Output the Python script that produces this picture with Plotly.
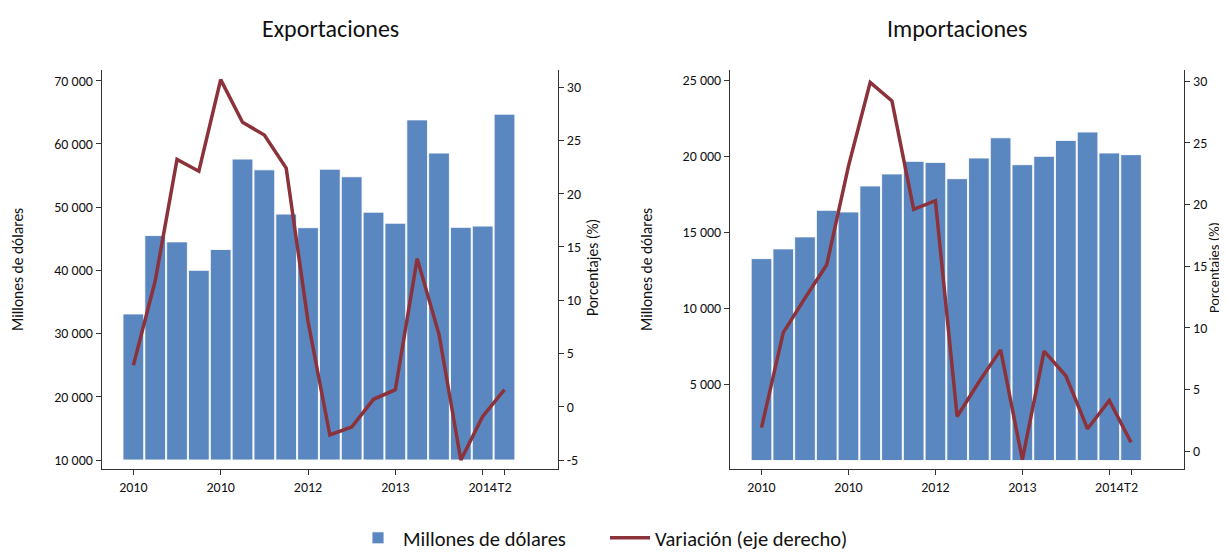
import plotly.graph_objects as go

# ---- data ----
periodos = ["2010T1", "2010T2", "2010T3", "2010T4",
            "2011T1", "2011T2", "2011T3", "2011T4",
            "2012T1", "2012T2", "2012T3", "2012T4",
            "2013T1", "2013T2", "2013T3", "2013T4",
            "2014T1", "2014T2"]

export_millones = [33100, 45500, 44500, 40000, 43300, 57600, 55900, 48900, 46750,
                   56000, 54800, 49200, 47450, 63800, 58550, 46800, 47000, 64700]
export_variacion = [3.9, 11.8, 23.2, 22.1, 30.7, 26.7, 25.5, 22.4, 8.0,
                    -2.65, -1.9, 0.7, 1.6, 13.9, 6.8, -5.0, -0.9, 1.6]

import_millones = [13280, 13920, 14710, 16460, 16350, 18060, 18850, 19680, 19610,
                   18540, 19900, 21230, 19460, 20010, 21060, 21610, 20230, 20120]
import_variacion = [1.9, 9.6, 12.4, 15.1, 23.1, 29.9, 28.4, 19.6, 20.3,
                    2.8, 5.6, 8.2, -0.7, 8.1, 6.1, 1.8, 4.1, 0.7]

tick_idx = [0, 4, 8, 12, 16, 17]
tick_text = ["2010", "2010", "2012", "2013", "2014", "T2"]

export_base = 10000
import_base = 0

# ---- style ----
BAR = "#5B87C1"
LINE = "#8C323A"
FONT = "Carlito, Lato, 'Liberation Sans', sans-serif"
AX = "#333333"

# page has an 8px body margin: figure pixels = page pixels - 8
OFF = 8
W, H = 1227 - OFF, 553 - OFF


def px(xp):
    return (xp - OFF) / W


def py(yp):
    return 1 - (yp - OFF) / H


fig = go.Figure()

fig.add_trace(go.Bar(x=periodos, y=[v - export_base for v in export_millones], base=export_base,
                     marker=dict(color=BAR, line=dict(color="rgba(255,255,255,0.85)", width=1)),
                     name="Millones de dólares", xaxis="x", yaxis="y", legendgroup="b"))
fig.add_trace(go.Scatter(x=periodos, y=export_variacion, mode="lines",
                         line=dict(color=LINE, width=3.5),
                         name="Variación (eje derecho)", xaxis="x", yaxis="y2", legendgroup="l"))
fig.add_trace(go.Bar(x=periodos, y=[v - import_base for v in import_millones], base=import_base,
                     marker=dict(color=BAR, line=dict(color="rgba(255,255,255,0.85)", width=1)),
                     name="Millones de dólares", xaxis="x2", yaxis="y3", showlegend=False, legendgroup="b"))
fig.add_trace(go.Scatter(x=periodos, y=import_variacion, mode="lines",
                         line=dict(color=LINE, width=3.5),
                         name="Variación (eje derecho)", xaxis="x2", yaxis="y4", showlegend=False, legendgroup="l"))

ydom = [py(469), py(70)]

xcommon = dict(type="category", range=[-1.45, 19.45], showline=True, linecolor=AX, linewidth=1,
               ticks="outside", ticklen=5, tickcolor=AX, showgrid=False, zeroline=False,
               tickvals=[periodos[i] for i in tick_idx], ticktext=tick_text, tickangle=0,
               tickfont=dict(size=14, color="#111"))
ycommon = dict(showline=True, linecolor=AX, linewidth=1, ticks="outside", ticklen=5, tickcolor=AX,
               showgrid=False, zeroline=False, tickfont=dict(size=14, color="#111"), domain=ydom)

TSIZE = 15.5

fig.update_layout(
    width=W, height=H,
    margin=dict(l=0, r=0, t=0, b=0, autoexpand=False),
    paper_bgcolor="white", plot_bgcolor="white",
    font=dict(family=FONT, color="#111"),
    separators=", ",
    bargap=0.05,
    xaxis=dict(xcommon, domain=[px(101.7), px(558)], anchor="y"),
    yaxis=dict(ycommon, anchor="x", side="left", range=[8576, 71690],
               tickvals=[10000, 20000, 30000, 40000, 50000, 60000, 70000],
               ticktext=["10 000", "20 000", "30 000", "40 000", "50 000", "60 000", "70 000"]),
    yaxis2=dict(ycommon, anchor="x", overlaying="y", side="right", range=[-5.84, 31.6],
                tickvals=[-5, 0, 5, 10, 15, 20, 25, 30],
                ticktext=["-5", "0", "5", "10", "15", "20", "25", "30"]),
    xaxis2=dict(xcommon, domain=[px(730), px(1184.3)], anchor="y3"),
    yaxis3=dict(ycommon, anchor="x2", side="left", range=[-560, 25690],
                tickvals=[5000, 10000, 15000, 20000, 25000],
                ticktext=["5 000", "10 000", "15 000", "20 000", "25 000"]),
    yaxis4=dict(ycommon, anchor="x2", overlaying="y3", side="right", range=[-1.46, 30.9],
                tickvals=[0, 5, 10, 15, 20, 25, 30],
                ticktext=["0", "5", "10", "15", "20", "25", "30"]),
    legend=dict(orientation="h", x=px(353), xanchor="left", y=py(538), yanchor="middle",
                font=dict(size=20.5, color="#111"), itemwidth=40, tracegroupgap=0,
                entrywidth=197, entrywidthmode="pixels"),
    annotations=[
        dict(text="Exportaciones", x=px(330), y=py(28), xref="paper", yref="paper",
             showarrow=False, font=dict(size=24, color="#111"), xanchor="center", yanchor="middle"),
        dict(text="Importaciones", x=px(957), y=py(28), xref="paper", yref="paper",
             showarrow=False, font=dict(size=24, color="#111"), xanchor="center", yanchor="middle"),
        dict(text="Millones de dólares", x=px(17), y=py(270), xref="paper", yref="paper",
             textangle=-90, showarrow=False, font=dict(size=TSIZE), xanchor="center", yanchor="middle"),
        dict(text="Porcentajes (%)", x=px(592), y=py(268), xref="paper", yref="paper",
             textangle=-90, showarrow=False, font=dict(size=TSIZE), xanchor="center", yanchor="middle"),
        dict(text="Millones de dólares", x=px(646), y=py(270), xref="paper", yref="paper",
             textangle=-90, showarrow=False, font=dict(size=TSIZE), xanchor="center", yanchor="middle"),
        dict(text="Porcentajes (%)", x=px(1214), y=py(268), xref="paper", yref="paper",
             textangle=-90, showarrow=False, font=dict(size=14.5), xanchor="center", yanchor="middle"),
    ],
)

fig.write_html("out.html")
